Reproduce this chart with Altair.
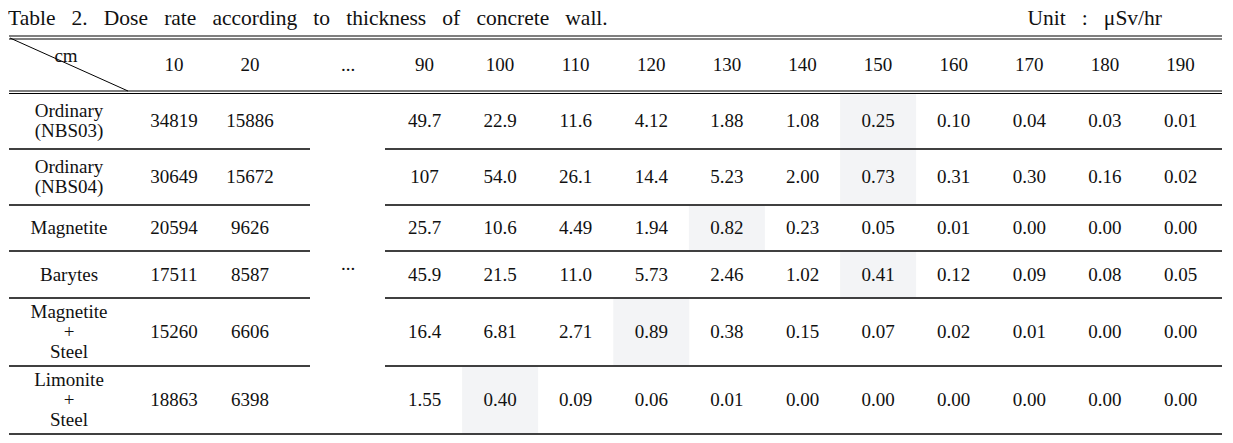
import altair as alt
import pandas as pd

# ---------------- data ----------------
title_text = "Table 2. Dose rate according to thickness of concrete wall."
unit_text = "Unit : μSv/hr"
corner_label = "cm"
thickness = ["10", "20", "...", "90", "100", "110", "120", "130", "140",
             "150", "160", "170", "180", "190"]
value_cols = ["10", "20", "90", "100", "110", "120", "130", "140",
              "150", "160", "170", "180", "190"]
materials = ["Ordinary\n(NBS03)", "Ordinary\n(NBS04)", "Magnetite", "Barytes",
             "Magnetite\n+\nSteel", "Limonite\n+\nSteel"]
ordinary_nbs03 = ["34819", "15886", "49.7", "22.9", "11.6", "4.12", "1.88", "1.08",
                  "0.25", "0.10", "0.04", "0.03", "0.01"]
ordinary_nbs04 = ["30649", "15672", "107", "54.0", "26.1", "14.4", "5.23", "2.00",
                  "0.73", "0.31", "0.30", "0.16", "0.02"]
magnetite = ["20594", "9626", "25.7", "10.6", "4.49", "1.94", "0.82", "0.23",
             "0.05", "0.01", "0.00", "0.00", "0.00"]
barytes = ["17511", "8587", "45.9", "21.5", "11.0", "5.73", "2.46", "1.02",
           "0.41", "0.12", "0.09", "0.08", "0.05"]
magnetite_steel = ["15260", "6606", "16.4", "6.81", "2.71", "0.89", "0.38", "0.15",
                   "0.07", "0.02", "0.01", "0.00", "0.00"]
limonite_steel = ["18863", "6398", "1.55", "0.40", "0.09", "0.06", "0.01", "0.00",
                  "0.00", "0.00", "0.00", "0.00", "0.00"]
rows = [ordinary_nbs03, ordinary_nbs04, magnetite, barytes, magnetite_steel, limonite_steel]
highlight_thickness = ["150", "150", "130", "150", "120", "100"]

# ---------------- layout ----------------
W, H = 1217, 427
LEFT, RIGHT = 9, 1222
LABEL_CX = 69
col_cx = {"10": 174, "20": 250, "...": 348}
for i, t in enumerate(thickness[3:]):
    col_cx[t] = 424.5 + 75.6 * i
CELL_W = 76
GAP_L, GAP_R = 310, 385
row_edges = [93.5, 149, 205, 251, 298, 366, 434]
HEADER_MID = 65
LINE_H = 20
FONT = "Liberation Serif"
INK = "#111111"
WIDE_SPACE = " \u2002"  # the caption is typeset with wide word spacing

xs = alt.Scale(domain=[8, 8 + W])
ys = alt.Scale(domain=[8, 8 + H], reverse=True)

# text table
txt = []
for t in thickness:
    txt.append({"x": col_cx[t], "y": HEADER_MID, "t": t})
txt.append({"x": 66, "y": 56, "t": corner_label})
for r, (m, vals) in enumerate(zip(materials, rows)):
    cy = (row_edges[r] + row_edges[r + 1]) / 2
    n_lines = m.count("\n") + 1
    txt.append({"x": LABEL_CX, "y": cy - (n_lines - 1) * LINE_H / 2, "t": m})
    for c, v in zip(value_cols, vals):
        txt.append({"x": col_cx[c], "y": cy, "t": v})
txt.append({"x": col_cx["..."], "y": (row_edges[0] + row_edges[-1]) / 2, "t": "..."})
text_df = pd.DataFrame(txt)

# rules
rl = []
rl.append({"x": LEFT, "x2": RIGHT, "y": 36, "y2": 36, "w": 1.2})
rl.append({"x": LEFT, "x2": RIGHT, "y": 39, "y2": 39, "w": 1.2})
rl.append({"x": LEFT, "x2": RIGHT, "y": 91, "y2": 91, "w": 1.2})
rl.append({"x": LEFT, "x2": RIGHT, "y": 93.5, "y2": 93.5, "w": 1.2})
for e in row_edges[1:-1]:
    rl.append({"x": LEFT, "x2": GAP_L, "y": e, "y2": e, "w": 1.4})
    rl.append({"x": GAP_R, "x2": RIGHT, "y": e, "y2": e, "w": 1.4})
rl.append({"x": LEFT, "x2": RIGHT, "y": row_edges[-1], "y2": row_edges[-1], "w": 1.4})
rl.append({"x": 10, "x2": 128, "y": 38, "y2": 91, "w": 1.0})
rule_df = pd.DataFrame(rl)

# highlight cells
hl = []
for r, t in enumerate(highlight_thickness):
    hl.append({"x": col_cx[t] - CELL_W / 2, "x2": col_cx[t] + CELL_W / 2,
               "y": row_edges[r] + 0.8, "y2": row_edges[r + 1] - 0.8})
hl_df = pd.DataFrame(hl)

rects = alt.Chart(hl_df).mark_rect(color="#f3f4f6").encode(
    x=alt.X("x:Q", scale=xs, axis=None), x2="x2:Q",
    y=alt.Y("y:Q", scale=ys, axis=None), y2="y2:Q")

rules = alt.Chart(rule_df).mark_rule(color="black").encode(
    x=alt.X("x:Q", scale=xs, axis=None), x2="x2:Q",
    y=alt.Y("y:Q", scale=ys, axis=None), y2="y2:Q",
    strokeWidth=alt.StrokeWidth("w:Q", scale=None))

texts = alt.Chart(text_df).mark_text(
    font=FONT, fontSize=19, color=INK, align="center", baseline="middle",
    lineBreak="\n", lineHeight=LINE_H).encode(
    x=alt.X("x:Q", scale=xs, axis=None),
    y=alt.Y("y:Q", scale=ys, axis=None),
    text="t:N")

title = alt.Chart(pd.DataFrame([{"x": 8, "y": 19,
                                 "t": title_text.replace(" ", WIDE_SPACE)}])).mark_text(
    font=FONT, fontSize=21.5, color=INK, align="left", baseline="middle").encode(
    x=alt.X("x:Q", scale=xs, axis=None), y=alt.Y("y:Q", scale=ys, axis=None), text="t:N")

unit = alt.Chart(pd.DataFrame([{"x": 1162, "y": 19,
                                "t": unit_text.replace(" ", WIDE_SPACE)}])).mark_text(
    font=FONT, fontSize=21.5, color=INK, align="right", baseline="middle").encode(
    x=alt.X("x:Q", scale=xs, axis=None), y=alt.Y("y:Q", scale=ys, axis=None), text="t:N")

chart = alt.layer(rects, rules, texts, title, unit).properties(
    width=W, height=H, padding=0, background="white"
).configure_view(stroke=None)

chart.save("out.html", embed_options={"renderer": "svg", "actions": False})
